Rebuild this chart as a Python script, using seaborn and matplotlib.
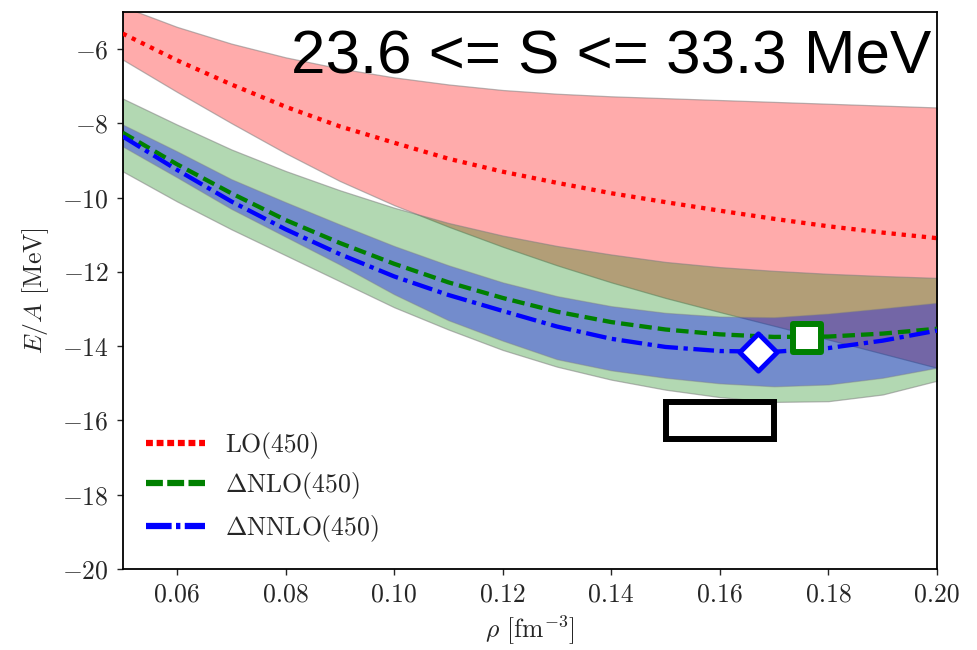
import matplotlib
matplotlib.use("Agg")
import matplotlib.pyplot as plt
from matplotlib.patches import Rectangle
import seaborn as sns

# density grid [fm^-3]
rho = [0.05, 0.06, 0.07, 0.08, 0.09, 0.10, 0.11, 0.12, 0.13, 0.14,
       0.15, 0.16, 0.17, 0.18, 0.19, 0.20]

# LO(450)
lo_center = [-5.58, -6.30, -6.95, -7.55, -8.08, -8.52, -8.95, -9.30, -9.60, -9.88,
             -10.12, -10.35, -10.57, -10.77, -10.94, -11.09]
lo_upper = [-4.85, -5.40, -5.85, -6.22, -6.52, -6.76, -6.95, -7.10, -7.20, -7.27,
            -7.32, -7.37, -7.42, -7.47, -7.52, -7.57]
lo_lower = [-6.28, -7.15, -7.99, -8.80, -9.55, -10.20, -10.78, -11.32, -11.82, -12.28,
            -12.70, -13.08, -13.45, -13.82, -14.20, -14.58]

# DeltaNLO(450)
nlo_center = [-8.25, -9.10, -9.88, -10.60, -11.22, -11.78, -12.28, -12.70, -13.07, -13.35,
              -13.55, -13.68, -13.75, -13.74, -13.66, -13.53]
nlo_upper = [-7.33, -8.03, -8.70, -9.28, -9.80, -10.27, -10.68, -11.02, -11.30, -11.53,
             -11.73, -11.87, -11.97, -12.05, -12.11, -12.16]
nlo_lower = [-9.29, -10.10, -10.85, -11.55, -12.25, -12.95, -13.55, -14.10, -14.55, -14.90,
             -15.17, -15.37, -15.50, -15.48, -15.30, -14.93]

# DeltaNNLO(450)
nnlo_center = [-8.35, -9.25, -10.10, -10.85, -11.52, -12.12, -12.62, -13.05, -13.47, -13.80,
               -14.02, -14.13, -14.15, -14.05, -13.85, -13.58]
nnlo_upper = [-8.03, -8.75, -9.50, -10.12, -10.72, -11.30, -11.82, -12.28, -12.65, -12.92,
              -13.10, -13.20, -13.22, -13.12, -12.98, -12.83]
nnlo_lower = [-8.62, -9.45, -10.30, -11.05, -11.80, -12.60, -13.30, -13.85, -14.35, -14.65,
              -14.85, -15.00, -15.08, -15.03, -14.85, -14.58]

# saturation points
nnlo_sat_rho = [0.167]
nnlo_sat_E = [-14.15]
nlo_sat_rho = [0.176]
nlo_sat_E = [-13.78]

# empirical saturation box
box_rho = [0.15, 0.17]
box_E = [-16.5, -15.5]

labels = ["LO(450)", r"$\Delta$NLO(450)", r"$\Delta$NNLO(450)"]
x_ticks = [0.06, 0.08, 0.10, 0.12, 0.14, 0.16, 0.18, 0.20]
y_ticks = [-20, -18, -16, -14, -12, -10, -8, -6]
annotation = "23.6 <= S <= 33.3 MeV"

sns.set_style("ticks")
plt.rcParams["font.family"] = "serif"
plt.rcParams["font.serif"] = ["cmr10", "DejaVu Serif"]
plt.rcParams["mathtext.fontset"] = "cm"
plt.rcParams["axes.formatter.use_mathtext"] = True
plt.rcParams["axes.unicode_minus"] = True

FS = 18.5
fig = plt.figure(figsize=(9.77, 6.5), dpi=100)
ax = fig.add_axes([0.1256, 0.1246, 0.8334, 0.8569])

edge = (0.5, 0.5, 0.5, 0.55)
ax.fill_between(rho, lo_lower, lo_upper, facecolor=(1, 0, 0, 0.33),
                edgecolor=edge, linewidth=0.9, zorder=1)
ax.fill_between(rho, nlo_lower, nlo_upper, facecolor=(0, 0.5, 0, 0.30),
                edgecolor=edge, linewidth=0.9, zorder=1)
ax.fill_between(rho, nnlo_lower, nnlo_upper, facecolor=(0, 0, 1, 0.35),
                edgecolor=(0.5, 0.5, 0.5, 0.4), linewidth=0.9, zorder=1)

LW = 3.1
sns.lineplot(x=rho, y=lo_center, color="red", linestyle=(0, (1.0, 1.35)), linewidth=LW,
             label=labels[0], ax=ax, zorder=3)
sns.lineplot(x=rho, y=nlo_center, color="green", linestyle=(0, (2.9, 1.4)), linewidth=LW,
             label=labels[1], ax=ax, zorder=3)
sns.lineplot(x=rho, y=nnlo_center, color="blue", linestyle=(0, (4.8, 1.3, 1.0, 1.3)),
             linewidth=LW, label=labels[2], ax=ax, zorder=3)

sns.scatterplot(x=nnlo_sat_rho, y=nnlo_sat_E, marker="D", s=19 ** 2, facecolor="white",
                edgecolor="blue", linewidth=3.5, ax=ax, zorder=5, legend=False)
sns.scatterplot(x=nlo_sat_rho, y=nlo_sat_E, marker="s", s=20 ** 2, facecolor="white",
                edgecolor="green", linewidth=4.3, ax=ax, zorder=5, legend=False)

ax.add_patch(Rectangle((box_rho[0], box_E[0]), box_rho[1] - box_rho[0], box_E[1] - box_E[0],
                       fill=False, edgecolor="black", linewidth=4.3, zorder=4))

ax.set_xlim(0.05, 0.20)
ax.set_ylim(-20, -5)
ax.set_xticks(x_ticks)
ax.set_yticks(y_ticks)
ax.set_xticklabels([f"{v:.2f}" for v in x_ticks])
ax.tick_params(axis="both", direction="out", length=4, width=1.0, labelsize=FS, pad=6,
               top=False, right=False)
for sp in ax.spines.values():
    sp.set_visible(True)
    sp.set_linewidth(1.3)
    sp.set_color("black")

ax.set_xlabel(r"$\rho$ [fm$^{-3}$]", fontsize=FS, labelpad=5)
ax.set_ylabel(r"$E/A$ [MeV]", fontsize=FS, labelpad=8)

ax.text(0.2067, 0.8905, annotation, transform=ax.transAxes, ha="left", va="baseline",
        fontsize=44.6, family=["Liberation Sans", "DejaVu Sans"], color="black", zorder=6)

leg = ax.legend(loc="lower left", bbox_to_anchor=(0.028, 0.045), frameon=False,
                fontsize=FS, handlelength=2.3, handletextpad=0.8, labelspacing=0.45,
                borderaxespad=0.0, borderpad=0.0)
leg_styles = [(0, (1.1, 0.6)), (0, (2.7, 0.7)), (0, (4.1, 0.7, 0.7, 0.7))]
for line, ls in zip(leg.get_lines(), leg_styles):
    line.set_linewidth(4.5)
    line.set_linestyle(ls)

fig.savefig("out.png", dpi=100)
